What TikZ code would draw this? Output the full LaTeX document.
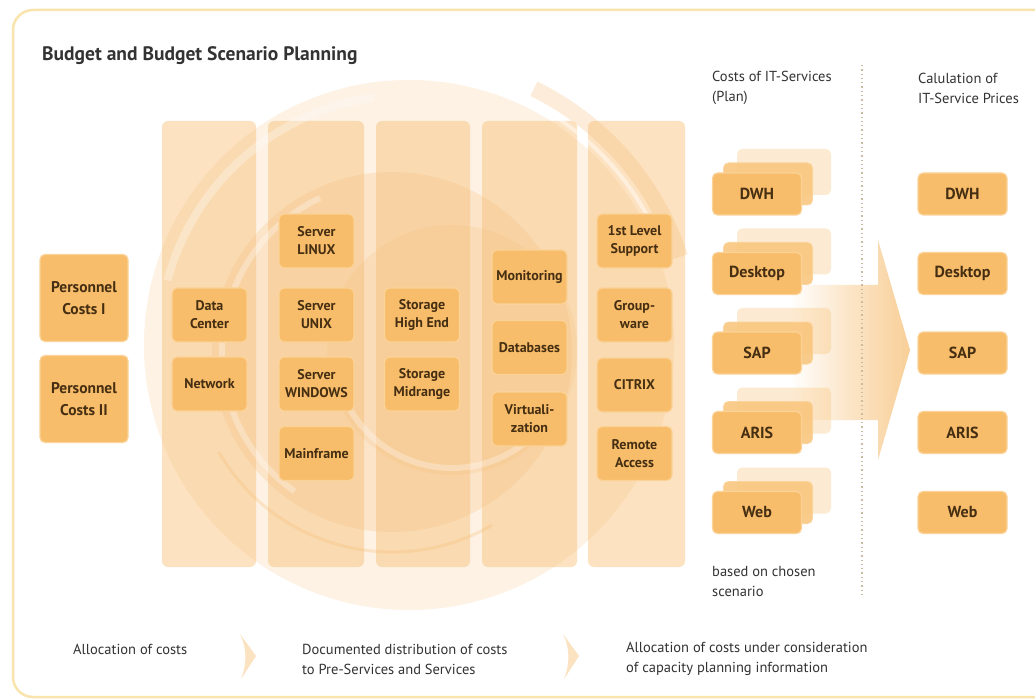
\documentclass[tikz,border=0pt]{standalone}
\usepackage{fontspec}
\setmainfont{PT Sans}
\definecolor{boxfill}{HTML}{F8BD6A}
\definecolor{boxedge}{HTML}{FBD399}
\definecolor{boxtext}{HTML}{452E12}
\definecolor{colfill}{HTML}{FCE2C0}
\definecolor{framec}{HTML}{F8E4AC}
\definecolor{swirlc}{HTML}{F6BE78}
\definecolor{labelc}{HTML}{333333}
\definecolor{arrowc}{HTML}{F8CF98}
\definecolor{dotc}{HTML}{C9BBA0}
\tikzset{
  box/.style={draw=boxedge, line width=1.2pt, fill=boxfill, rounded corners=5pt,
    text=boxtext, align=center, inner sep=0pt},
  colbox/.style={box, minimum width=75pt, minimum height=54pt,
    font=\bfseries\fontsize{14}{18}\selectfont},
  perbox/.style={box, minimum width=88pt, minimum height=87pt,
    font=\bfseries\fontsize{15.5}{22}\selectfont},
  svcbox/.style={box, minimum width=89pt, minimum height=42pt,
    font=\bfseries\fontsize{16}{18}\selectfont},
  ghost/.style={fill=boxfill, rounded corners=5pt, minimum width=89pt,
    minimum height=42pt, inner sep=0pt},
  column/.style={fill=colfill, rounded corners=6pt, minimum height=446pt, inner sep=0pt},
  label/.style={text=labelc, align=left, anchor=west, inner sep=0pt,
    font=\fontsize{14.5}{20}\selectfont},
  chev/.style={fill=arrowc!60},
}
\begin{document}
\begin{tikzpicture}[x=1pt,y=-1pt]
\useasboundingbox (0,0) rectangle (1035,700);
\fill[white] (0,0) rectangle (1035,700);
% frame
\draw[framec, line width=2.5pt, rounded corners=20pt] (13,10) rectangle (1060,697);

% columns
\node[column, minimum width=94pt] (col1) at (209,344) {};
\node[column, minimum width=96pt] (col2) at (316,344) {};
\node[column, minimum width=94pt] (col3) at (423,344) {};
\node[column, minimum width=95pt] (col4) at (529.5,344) {};
\node[column, minimum width=97pt] (col5) at (636.5,344) {};

% swirl
\fill[swirlc, opacity=.2] (409,345) circle (265);
\fill[swirlc, opacity=.25] (392,352) circle (180);
\fill[swirlc, opacity=.2] (452,350) circle (125);
\draw[white, opacity=.3, line width=8pt] (409,345) ++(195:250) arc[start angle=195, end angle=262, radius=250];
\draw[white, opacity=.3, line width=6pt] (392,352) ++(125:170) arc[start angle=125, end angle=245, radius=170];
\draw[white, opacity=.3, line width=6pt] (452,350) ++(25:118) arc[start angle=25, end angle=155, radius=118];
\draw[swirlc, opacity=.28, line width=16pt] (409,345) ++(-64:285) arc[start angle=-64, end angle=-18, radius=285];
\draw[white, opacity=.45, line width=4pt] (409,345) ++(-66:271) arc[start angle=-66, end angle=-20, radius=271];
\draw[swirlc, opacity=.3, line width=3pt] (392,352) ++(60:200) arc[start angle=60, end angle=150, radius=200];

% left boxes
\node[perbox] (pc1) at (84,298) {Personnel\\Costs I};
\node[perbox] (pc2) at (84,399) {Personnel\\Costs II};

% column 1
\node[colbox] (dc)  at (209.5,315) {Data\\Center};
\node[colbox] (net) at (209.5,384) {Network};
% column 2
\node[colbox] (lin) at (316.5,241) {Server\\LINUX};
\node[colbox] (unx) at (316.5,315) {Server\\UNIX};
\node[colbox] (win) at (316.5,384) {Server\\WINDOWS};
\node[colbox] (mf)  at (316.5,453.5) {Mainframe};
% column 3
\node[colbox] (sth) at (422,315) {Storage\\High End};
\node[colbox] (stm) at (422,384) {Storage\\Midrange};
% column 4
\node[colbox] (mon) at (529.5,277) {Monitoring};
\node[colbox] (db)  at (529.5,347.5) {Databases};
\node[colbox] (vir) at (529.5,419) {Virtuali-\\zation};
% column 5
\node[colbox] (fls) at (634.5,241) {1st Level\\Support};
\node[colbox] (grp) at (634.5,315) {Group-\\ware};
\node[colbox] (ctx) at (634.5,385) {CITRIX};
\node[colbox] (ra)  at (634.5,453.5) {Remote\\Access};

% big arrow
\coordinate (atip) at (910,350);
\shade[left color=white, right color=arrowc, middle color=arrowc!55]
  (790,285) -- (878,285) -- (878,240) -- (atip) -- (878,460) -- (878,420) -- (790,420) -- cycle;

% stacked service boxes (plan)
\foreach \n/\t/\y in {dwh/DWH/194, desk/Desktop/273.5, sap/SAP/353, aris/ARIS/432.5, web/Web/512.5}{
  \node[ghost, opacity=.3, minimum width=94pt, minimum height=46pt] (\n B) at (784,\y-22) {};
  \node[ghost, fill=boxfill!90!white, draw=boxedge, line width=1pt, opacity=.85] (\n M) at (768,\y-10) {};
  \node[svcbox] (\n) at (757,\y) {\t};
}
% price boxes
\foreach \n/\t/\y in {pdwh/DWH/194, pdesk/Desktop/273.5, psap/SAP/353, paris/ARIS/432.5, pweb/Web/512.5}{
  \node[svcbox] (\n) at (962.5,\y) {\t};
}

% dotted separator
\coordinate (dtop) at (862,65);
\coordinate (dbot) at (862,597);
\draw[dotc, line width=1.3pt, dash pattern=on 1.3pt off 3pt] (dtop) -- (dbot);

% texts
\node[anchor=west, inner sep=0pt, text=labelc, font=\bfseries\fontsize{19.5}{22}\selectfont] (title) at (42,56) {Budget and Budget Scenario Planning};
\node[label] (plan) at (712,88) {Costs of IT-Services\\(Plan)};
\node[label] (calc) at (918,88) {Calulation of\\IT-Service Prices};
\node[label] (scen) at (712,582) {based on chosen\\scenario};
\node[label] (b1) at (73,649) {Allocation of costs};
\node[label] (b2) at (302,659) {Documented distribution of costs\\to Pre-Services and Services};
\node[label] (b3) at (626,659) {Allocation of costs under consideration\\of capacity planning information};

% chevrons
\fill[chev] (240,634) -- (256,656) -- (241,679) .. controls (247,665) and (247,647) .. (240,634) -- cycle;
\fill[chev] (563,634) -- (579,656) -- (564,679) .. controls (570,665) and (570,647) .. (563,634) -- cycle;
\end{tikzpicture}
\end{document}
